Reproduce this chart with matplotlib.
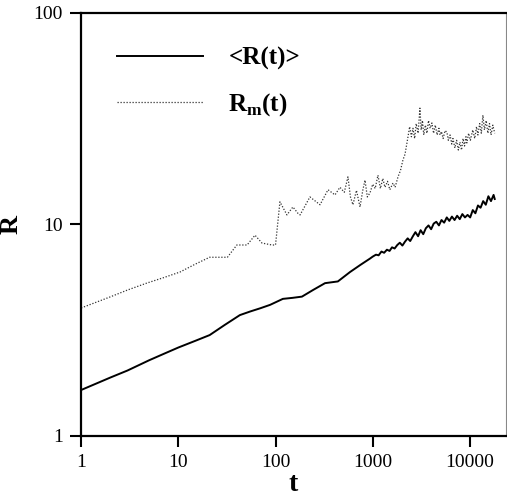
import numpy as np
import matplotlib
matplotlib.use("Agg")
import matplotlib.pyplot as plt
from matplotlib.ticker import FixedLocator, NullLocator

plt.rcParams["font.family"] = ["Liberation Serif", "DejaVu Serif"]
plt.rcParams["mathtext.fontset"] = "custom"
plt.rcParams["mathtext.rm"] = "Liberation Serif"
plt.rcParams["mathtext.bf"] = "Liberation Serif:bold"

# <R(t)>
r_mean_t = [1, 2, 3, 5, 7, 10, 15, 21, 30, 43, 55, 70, 88, 119, 150, 187, 243, 323,
            438, 584, 750, 937,
            1000, 1080, 1150, 1230, 1310, 1400, 1490, 1580, 1680, 1790, 1900, 2020,
            2150, 2290, 2430, 2590, 2750, 2930, 3110, 3310, 3520, 3750, 3990, 4240,
            4510, 4800, 5100, 5430, 5780, 6140, 6530, 6950, 7390, 7860, 8360, 8890,
            9460, 10060, 10700, 11380, 12100, 12870, 13690, 14560, 15490, 16470,
            17520, 18000]
r_mean = [1.65, 1.89, 2.04, 2.28, 2.44, 2.62, 2.82, 3.0, 3.35, 3.73, 3.88, 4.02, 4.17,
          4.45, 4.5, 4.56, 4.9, 5.28, 5.38, 5.96, 6.45, 6.9,
          7.05, 7.2, 7.15, 7.45, 7.35, 7.6, 7.5, 7.8, 7.7, 8.0, 8.2, 7.95,
          8.3, 8.6, 8.35, 8.8, 9.2, 8.8, 9.4, 9.0, 9.6, 9.9, 9.5, 10.1,
          10.3, 9.9, 10.5, 10.2, 10.8, 10.4, 10.9, 10.5, 11.0, 10.6, 11.2, 10.8,
          11.1, 10.8, 11.7, 11.3, 12.3, 12.0, 12.9, 12.4, 13.6, 12.9,
          13.8, 13.2]

# R_m(t)
r_max_t = [1, 2, 3, 4.77, 7, 10.4, 15, 21, 32, 40, 51, 61.5, 72.6, 92, 100, 111, 131,
           151, 170, 179, 226, 287, 347, 409, 460, 510, 556, 590, 626, 680, 740, 790,
           833, 880, 937, 1000, 1060, 1132, 1200, 1270, 1336, 1420, 1500, 1615, 1700,
           1820, 1930, 2047, 2150, 2303, 2400, 2500, 2594, 2700, 2800, 2930, 3060,
           3150, 3250, 3350, 3480, 3610, 3750, 3900, 4063, 4230, 4400, 4600, 4800,
           4920, 5100, 5300, 5550, 5800, 6000, 6250, 6500, 6690, 7000, 7300, 7600,
           7890, 8200, 8500, 8800, 9100, 9300, 9700, 10100, 10700, 11200, 11700,
           12080, 12600, 13100, 13600, 14100, 14700, 15300, 15900, 16500, 17200, 18000]
r_max = [4.03, 4.55, 4.9, 5.29, 5.6, 5.96, 6.5, 7.0, 7.0, 8.0, 8.0, 8.9, 8.17, 8.0, 8.0,
         12.8, 11.1, 12.1, 11.3, 11.1, 13.5, 12.4, 14.6, 13.8, 15.0, 14.2, 16.8, 13.5,
         12.4, 14.5, 12.1, 14.5, 16.2, 13.5, 14.1, 15.5, 14.8, 17.1, 14.8, 16.5, 15.0,
         16.0, 14.6, 15.7, 15.0, 16.8, 18.0, 20.2, 21.5, 25.9, 29, 26, 28.5, 25.5, 30,
         27, 35.5, 28, 31, 26.5, 29.5, 27, 31, 28.5, 30.2, 27, 29.5, 26.5, 28.5, 26.5,
         27.5, 25.5, 27.8, 27.3, 25, 26.5, 24, 25.5, 23, 25, 22.5, 24.5, 22.5, 25.5,
         23.5, 26, 24.3, 27, 25, 28, 25.5, 29, 26.5, 30, 27, 32.9, 28, 31, 27, 30, 26.5,
         29.5, 27]

x_ticks = [1, 10, 100, 1000, 10000]
y_ticks = [1, 10, 100]

fig = plt.figure(figsize=(5.07, 4.98), dpi=100)
ax = fig.add_axes([0.16, 0.1245, 0.838, 0.8494])

ax.plot(r_mean_t, r_mean, color="black", lw=1.4, label="<R(t)>")
ax.plot(r_max_t, r_max, color="#333333", lw=0.9, linestyle=(0, (1, 1.4)),
        label=r"$\mathbf{R}_{\mathbf{m}}\mathbf{(t)}$")

ax.set_xscale("log")
ax.set_yscale("log")
ax.set_xlim(1, 23500)
ax.set_ylim(1, 100)

ax.xaxis.set_major_locator(FixedLocator(x_ticks))
ax.yaxis.set_major_locator(FixedLocator(y_ticks))
ax.xaxis.set_minor_locator(NullLocator())
ax.yaxis.set_minor_locator(NullLocator())
ax.set_xticklabels([str(v) for v in x_ticks])
ax.set_yticklabels([str(v) for v in y_ticks])
ax.tick_params(direction="out", length=8, width=1.5, labelsize=14, pad=5)

for side in ["left", "bottom", "top"]:
    ax.spines[side].set_linewidth(1.6)
ax.spines["right"].set_linewidth(0.8)
ax.spines["right"].set_color("#888888")

ax.set_xlabel("t", fontsize=20, fontweight="bold", labelpad=1)
ax.set_ylabel("R", fontsize=19, fontweight="bold", labelpad=8)

leg = ax.legend(loc="upper left", bbox_to_anchor=(0.085, 0.921), frameon=False,
                prop={"weight": "bold", "size": 18}, handlelength=3.45,
                handletextpad=1.0, labelspacing=0.85, borderpad=0,
                borderaxespad=0)

fig.savefig("out.png", dpi=100)
